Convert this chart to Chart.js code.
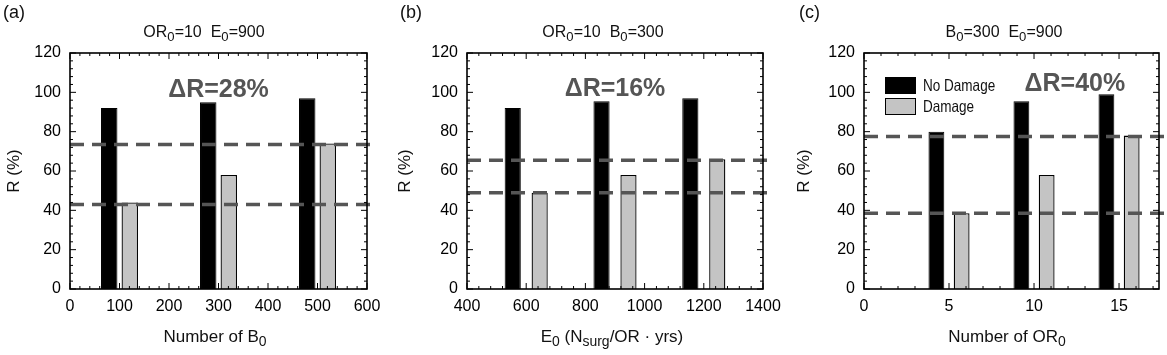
<!DOCTYPE html>
<html><head><meta charset="utf-8">
<script src="https://cdn.jsdelivr.net/npm/chart.js@4"></script>
<style>
html,body{margin:0;padding:0;background:#fff}
body{width:1167px;height:355px;position:relative;overflow:hidden;font-family:"Liberation Sans",Arial,Helvetica,sans-serif;color:#111}
canvas.pane{position:absolute;top:0}
.lbl{position:absolute;white-space:pre;transform:translate(-50%,-50%);line-height:1}
.lbl sub{font-size:0.82em;vertical-align:-0.32em;line-height:0}
.tag{position:absolute;font-size:18px;line-height:1}
.legend{position:absolute;left:885px;top:75px;font-family:"Liberation Sans",Arial,sans-serif;font-size:16.5px}
.legend .row{display:flex;align-items:center;height:21px}
.legend .sw{width:31px;height:17px;box-sizing:border-box;border:1.3px solid #000;margin-right:7px;flex:none}
.legend span{display:inline-block;transform:scaleX(0.82);transform-origin:0 50%;white-space:nowrap}
</style></head><body>
<canvas id="ca" class="pane" width="400" height="355" style="left:0px"></canvas>
<canvas id="cb" class="pane" width="400" height="355" style="left:390px"></canvas>
<canvas id="cc" class="pane" width="390" height="355" style="left:777px"></canvas>

<div class="tag" style="left:3px;top:3px">(a)</div>
<div class="tag" style="left:400px;top:3px">(b)</div>
<div class="tag" style="left:799px;top:3px">(c)</div>

<div class="lbl" style="left:204px;top:32px;font-size:16px">OR<sub>0</sub>=10  E<sub>0</sub>=900</div>
<div class="lbl" style="left:603px;top:32px;font-size:16px">OR<sub>0</sub>=10  B<sub>0</sub>=300</div>
<div class="lbl" style="left:1004px;top:32px;font-size:16px">B<sub>0</sub>=300  E<sub>0</sub>=900</div>

<div class="lbl" style="left:215px;top:336px;font-size:17px">Number of B<sub>0</sub></div>
<div class="lbl" style="left:612px;top:336px;font-size:17px">E<sub>0</sub> (N<sub>surg</sub>/OR · yrs)</div>
<div class="lbl" style="left:1007px;top:336px;font-size:17px">Number of OR<sub>0</sub></div>

<div class="legend" id="legend"></div>

<script>
// ---------- data ----------
const seriesNames = ['No Damage', 'Damage'];

const catA = [100, 300, 500];
const noDamageA = [92, 95, 97];
const damageA = [44, 58, 74];
const dashA = [73.5, 43];

const catB = [600, 900, 1200];
const noDamageB = [92, 95.5, 97];
const damageB = [49, 58, 66];
const dashB = [65.5, 49];

const catC = [5, 10, 15];
const noDamageC = [80, 95.5, 99];
const damageC = [38.5, 58, 78];
const dashC = [77.5, 38.5];

const deltaLabels = ['ΔR=28%', 'ΔR=16%', 'ΔR=40%'];
const yTickMin = 0, yTickMax = 120, yTickStep = 20;

// ---------- styling ----------
const BLACK = '#000000';
const GRAY = '#c4c4c4';
const DASH = '#555555';
const FONT = '"Liberation Sans", Arial, sans-serif';

// frame with inward major/minor ticks on all four sides
const framePlugin = {
  id: 'frame',
  afterDraw(chart) {
    const {ctx, chartArea: a, scales: {x, y}} = chart;
    ctx.save();
    ctx.strokeStyle = '#000';
    const line = (x1, y1, x2, y2) => { ctx.beginPath(); ctx.moveTo(x1, y1); ctx.lineTo(x2, y2); ctx.stroke(); };
    ctx.lineWidth = 1;
    const xs = x.options.ticks.stepSize, ys = y.options.ticks.stepSize;
    const xmin = x.min, xmax = x.max;
    for (let i = 0; ; i++) {
      const v = xmin + i * xs / 5;
      if (v > xmax + 1e-9) break;
      const px = x.getPixelForValue(v);
      const len = (i % 5 === 0) ? 6 : 3;
      line(px, a.bottom, px, a.bottom - len);
      line(px, a.top, px, a.top + len);
    }
    for (let i = 0; ; i++) {
      const v = y.min + i * ys / 5;
      if (v > y.max + 1e-9) break;
      const py = y.getPixelForValue(v);
      const len = (i % 5 === 0) ? 6 : 3;
      line(a.left, py, a.left + len, py);
      line(a.right, py, a.right - len, py);
    }
    ctx.lineWidth = 1.6;
    ctx.strokeRect(a.left, a.top, a.right - a.left, a.bottom - a.top);
    ctx.restore();
  }
};

// horizontal dashed reference levels + ΔR annotation
const overlayPlugin = {
  id: 'overlay',
  afterDatasetsDraw(chart, args, opts) {
    const {ctx, chartArea: a, scales: {x, y}} = chart;
    ctx.save();
    ctx.strokeStyle = DASH;
    ctx.lineWidth = 3.5;
    ctx.setLineDash([14, 8]);
    opts.levels.forEach(v => {
      const py = y.getPixelForValue(v);
      ctx.beginPath();
      ctx.moveTo(a.left, py);
      ctx.lineTo(a.right + 5, py);
      ctx.stroke();
    });
    ctx.setLineDash([]);
    ctx.fillStyle = '#555';
    ctx.font = 'bold 25px ' + FONT;
    ctx.textAlign = 'center';
    ctx.textBaseline = 'middle';
    ctx.fillText(opts.text, x.getPixelForValue(opts.tx), y.getPixelForValue(opts.ty));
    ctx.restore();
  }
};

function makeChart(id, p) {
  const mk = (vals) => p.cats.map((c, i) => ({x: c, y: vals[i]}));
  return new Chart(document.getElementById(id), {
    type: 'bar',
    data: {
      datasets: [
        {label: seriesNames[0], data: mk(p.nd), backgroundColor: BLACK, borderColor: BLACK, borderWidth: 1,
         categoryPercentage: p.cp, barPercentage: p.bp},
        {label: seriesNames[1], data: mk(p.d), backgroundColor: GRAY, borderColor: BLACK, borderWidth: 1.3,
         categoryPercentage: p.cp, barPercentage: p.bp}
      ]
    },
    options: {
      responsive: false, animation: false,
      layout: {padding: {left: p.padL, right: p.padR, top: 53, bottom: 0}},
      plugins: {
        legend: {display: false}, tooltip: {enabled: false}, title: {display: false},
        overlay: {levels: p.dash, text: p.text, tx: p.tx, ty: p.ty}
      },
      scales: {
        x: {
          type: 'linear', min: p.xmin, max: p.xmax, offset: false,
          grid: {display: false, drawTicks: false}, border: {display: false},
          ticks: {stepSize: p.xstep, includeBounds: false, autoSkip: false, maxRotation: 0, padding: 8,
                  color: '#000', font: {family: FONT, size: 16},
                  callback: (v) => (Math.abs(v / p.xstep - Math.round(v / p.xstep)) < 1e-6 ? String(v) : '')},
          afterFit: (s) => { s.height = 66; }
        },
        y: {
          min: yTickMin, max: yTickMax,
          grid: {display: false, drawTicks: false}, border: {display: false},
          ticks: {stepSize: yTickStep, padding: 9, color: '#000', font: {family: FONT, size: 16}},
          title: {display: true, text: 'R (%)', color: '#111', font: {family: FONT, size: 17}, padding: {top: p.tpad, bottom: 0}},
          afterFit: (s) => { s.width = p.axisW; }
        }
      }
    },
    plugins: [framePlugin, overlayPlugin]
  });
}

makeChart('ca', {cats: catA, nd: noDamageA, d: damageA, dash: dashA, text: deltaLabels[0], tx: 300, ty: 101,
  xmin: 0, xmax: 600, xstep: 100, cp: 0.83, bp: 0.8, padL: 0, padR: 33, axisW: 70, tpad: 4});
makeChart('cb', {cats: catB, nd: noDamageB, d: damageB, dash: dashB, text: deltaLabels[1], tx: 900, ty: 101.5,
  xmin: 400, xmax: 1400, xstep: 200, cp: 0.91, bp: 0.6, padL: 0, padR: 27, axisW: 77, tpad: 5});
makeChart('cc', {cats: catC, nd: noDamageC, d: damageC, dash: dashC, text: deltaLabels[2], tx: 12.4, ty: 104,
  xmin: 0, xmax: 17.35, xstep: 5, cp: 0.594, bp: 0.627, padL: 12, padR: 8, axisW: 75, tpad: 5});

// legend built from series names and colours
const leg = document.getElementById('legend');
[[seriesNames[0], BLACK], [seriesNames[1], GRAY]].forEach(([name, col]) => {
  const r = document.createElement('div'); r.className = 'row';
  const sw = document.createElement('div'); sw.className = 'sw'; sw.style.background = col;
  const t = document.createElement('span'); t.textContent = name;
  r.appendChild(sw); r.appendChild(t); leg.appendChild(r);
});
</script>
</body></html>
